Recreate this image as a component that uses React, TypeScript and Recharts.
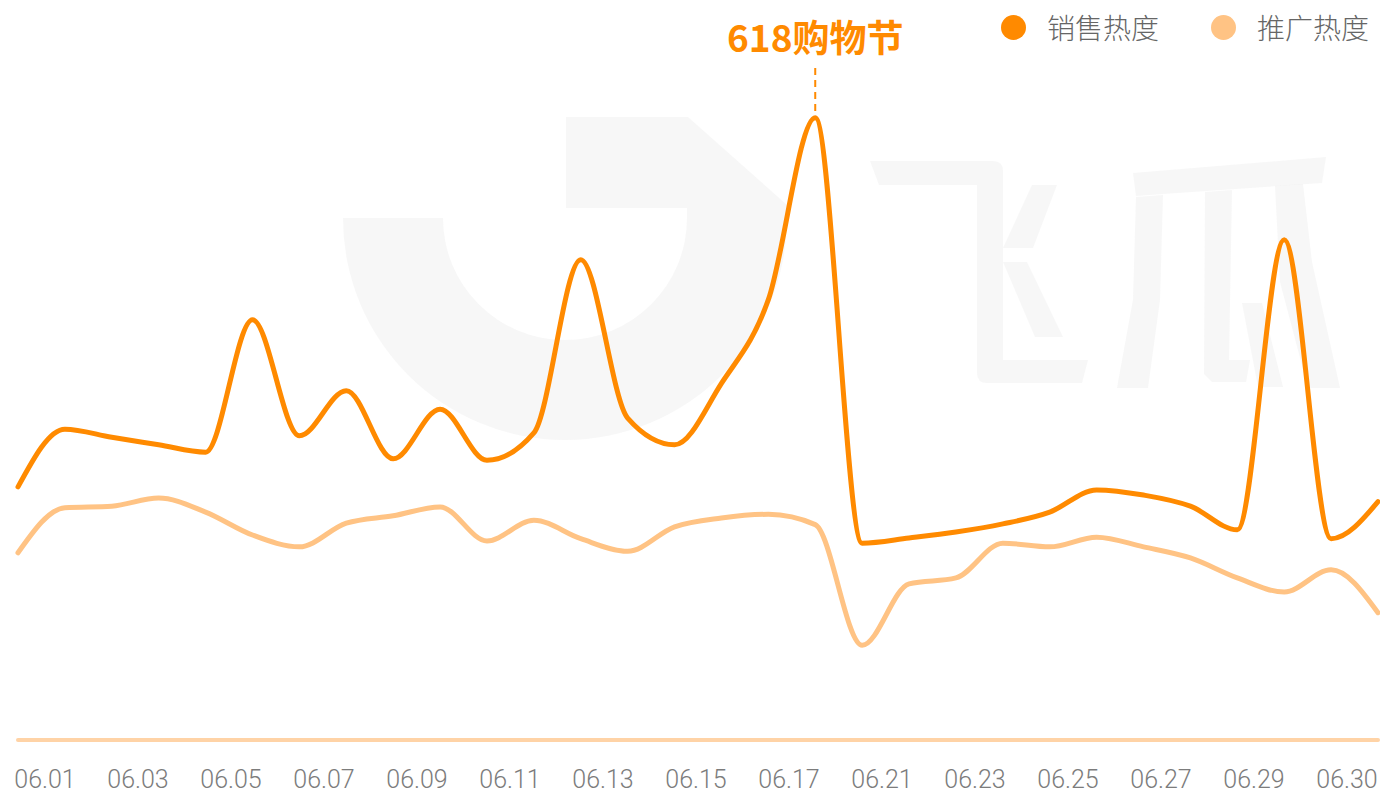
import React from 'react';
import { LineChart, Line, XAxis, YAxis, ReferenceLine, Legend, Customized } from 'recharts';

const dates = [
  '06.01', '06.02', '06.03', '06.04', '06.05', '06.06', '06.07', '06.08', '06.09', '06.10',
  '06.11', '06.12', '06.13', '06.14', '06.15', '06.16', '06.17', '06.18', '06.19', '06.20',
  '06.21', '06.22', '06.23', '06.24', '06.25', '06.26', '06.27', '06.28', '06.29', '06.30',
];

const salesHeat = [
  34.2, 42.0, 40.9, 39.9, 38.9, 56.8, 41.1, 47.2, 38.0, 44.7,
  37.8, 41.5, 64.9, 43.5, 39.9, 48.2, 59.5, 84.1, 26.6, 27.3,
  28.1, 29.2, 30.8, 33.8, 33.1, 31.6, 28.4, 67.6, 27.2, 32.2,
];

const promoHeat = [
  25.3, 31.4, 31.6, 32.7, 30.8, 27.7, 26.1, 29.3, 30.3, 31.5,
  26.9, 29.7, 27.2, 25.5, 28.8, 30.0, 30.5, 29.1, 12.8, 21.1,
  21.9, 26.6, 26.1, 27.4, 26.1, 24.6, 21.9, 20.0, 23.0, 17.2,
];

const tickLabels = [
  '06.01', '06.03', '06.05', '06.07', '06.09', '06.11', '06.13', '06.15',
  '06.17', '06.21', '06.23', '06.25', '06.27', '06.29', '06.30',
];
const tickIndexes = tickLabels.map((_, i) => i);

const peakIndex = 17;
const annotationTop = 90.8;
const annotationText = '618购物节';

const SALES = '销售热度';
const PROMO = '推广热度';
const seriesOrder = [SALES, PROMO];
const SALES_COLOR = '#FF8A00';
const PROMO_COLOR = '#FFC384';
const AXIS_COLOR = '#FFD3A6';

const data = dates.map((d, i) => ({ date: d, sales: salesHeat[i], promo: promoHeat[i] }));

const Watermark = () => {
  const fill = '#c4c4c4';
  const op = 0.13;
  return (
    <g fill={fill} fillOpacity={op} pointerEvents="none">
      <path d="M566,117 L688,117 L787,205 L787,218 A222,222 0 0 1 343,218 L443,218 A122,122 0 0 0 687,218 L687,208 L566,208 Z" />
      <path d="M870,161 L993,161 Q1003,161 1003,171 L1003,360 L1088,360 L1082,383 L987,383 Q977,383 977,373 L977,185 L879,185 Z" />
      <path d="M1032,185 L1057,185 L1033,248 L1003,248 Z" />
      <path d="M1003,262 L1027,262 L1063,337 L1035,337 Z" />
      <path d="M1133,173 L1326,157 L1322,183 L1163,194 L1136,196 Z" />
      <path d="M1136,197 L1163,195 L1160,300 L1148,388 L1117,388 L1133,300 Z" />
      <path d="M1205,192 L1232,190 L1229,360 L1250,360 L1246,382 L1212,382 L1204,374 Z" />
      <path d="M1275,186 L1303,184 L1312,262 L1340,388 L1308,388 L1280,282 Z" />
      <path d="M1242,303 L1262,303 L1283,387 L1258,387 Z" />
    </g>
  );
};

const renderLegend = (props: any) => {
  const payload = [...(props.payload || [])].sort(
    (a: any, b: any) => seriesOrder.indexOf(a.value) - seriesOrder.indexOf(b.value)
  );
  return (
    <div style={{ display: 'flex', alignItems: 'center', height: 54 }}>
      {payload.map((entry: any, i: number) => (
        <div key={i} style={{ display: 'flex', alignItems: 'center', marginRight: i === 0 ? 52 : 0 }}>
          <span
            style={{
              display: 'inline-block',
              width: 25,
              height: 25,
              borderRadius: '50%',
              background: entry.color,
              marginRight: 21,
            }}
          />
          <span
            style={{
              fontFamily: '"Noto Sans CJK SC", "Noto Sans", sans-serif',
              fontSize: 28,
              fontWeight: 300,
              color: '#666666',
              lineHeight: '28px',
            }}
          >
            {entry.value}
          </span>
        </div>
      ))}
    </div>
  );
};

export default function App() {
  return (
    <div style={{ position: 'absolute', left: 0, top: 0, width: 1380, height: 794, background: '#ffffff' }}>
      <LineChart
        width={1380}
        height={794}
        data={data}
        margin={{ top: 0, right: 2, left: 18, bottom: 0 }}
      >
        <XAxis
          xAxisId="labels"
          dataKey="labelSlot"
          type="number"
          domain={[0, tickLabels.length - 1]}
          ticks={tickIndexes}
          allowDataOverflow
          padding={{ left: 27, right: 31 }}
          height={54}
          axisLine={{ stroke: AXIS_COLOR, strokeWidth: 4, strokeLinecap: 'round' }}
          tickLine={false}
          tickSize={0}
          tickMargin={30}
          interval={0}
          tickFormatter={(v: number) => tickLabels[v] ?? ''}
          tick={{ fill: '#7c7c7c', fontSize: 25, fontWeight: 300, fontFamily: 'Roboto, "Noto Sans", sans-serif' }}
        />
        <XAxis xAxisId="data" dataKey="date" hide height={0} />
        <YAxis hide domain={[0, 100]} />
        <Legend
          layout="horizontal"
          verticalAlign="middle"
          align="center"
          content={renderLegend}
          wrapperStyle={{ position: 'absolute', top: 0, left: 1001, width: 'auto', height: 54 }}
        />
        <Line
          xAxisId="data"
          type="monotone"
          dataKey="sales"
          name={SALES}
          stroke={SALES_COLOR}
          strokeWidth={5}
          strokeLinecap="round"
          dot={false}
          activeDot={false}
          isAnimationActive={false}
        />
        <Line
          xAxisId="data"
          type="monotone"
          dataKey="promo"
          name={PROMO}
          stroke={PROMO_COLOR}
          strokeWidth={5}
          strokeLinecap="round"
          dot={false}
          activeDot={false}
          isAnimationActive={false}
        />
        <ReferenceLine
          xAxisId="data"
          segment={[
            { x: dates[peakIndex], y: annotationTop },
            { x: dates[peakIndex], y: salesHeat[peakIndex] },
          ]}
          stroke={SALES_COLOR}
          strokeWidth={2}
          strokeDasharray="7 5"
          label={{
            value: annotationText,
            position: 'top',
            offset: 16,
            fill: SALES_COLOR,
            fontSize: 37,
            fontWeight: 700,
            fontFamily: '"Noto Sans CJK SC", sans-serif',
          }}
        />
        <Customized component={Watermark} />
      </LineChart>
    </div>
  );
}
